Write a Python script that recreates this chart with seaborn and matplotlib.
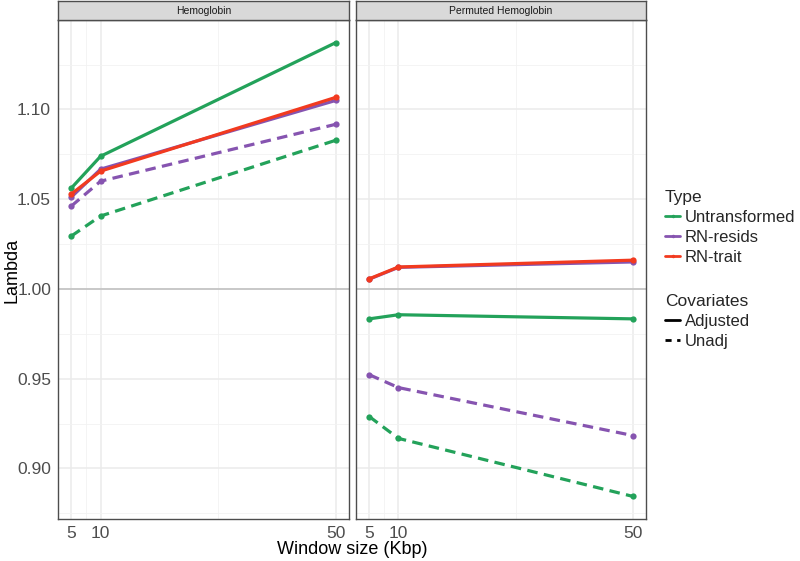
import numpy as np
import pandas as pd
import matplotlib
matplotlib.use('Agg')
import matplotlib.pyplot as plt
import seaborn as sns
from matplotlib.lines import Line2D

# data
windows = [5, 10, 50]
panels = ["Hemoglobin", "Permuted Hemoglobin"]
types = ["Untransformed", "RN-resids", "RN-trait"]
covariates = ["Adjusted", "Unadj"]

hemo_untrans_adj = [1.0561, 1.0739, 1.1372]
hemo_resids_adj = [1.0511, 1.0667, 1.1050]
hemo_trait_adj = [1.0528, 1.0656, 1.1067]
hemo_resids_unadj = [1.0461, 1.0600, 1.0917]
hemo_untrans_unadj = [1.0294, 1.0406, 1.0828]

perm_untrans_adj = [0.9833, 0.9856, 0.9833]
perm_resids_adj = [1.0054, 1.0120, 1.0150]
perm_trait_adj = [1.0056, 1.0122, 1.0160]
perm_resids_unadj = [0.9522, 0.9450, 0.9183]
perm_untrans_unadj = [0.9289, 0.9167, 0.8844]

series = [
    ("Hemoglobin", "Untransformed", "Adjusted", hemo_untrans_adj),
    ("Hemoglobin", "RN-resids", "Adjusted", hemo_resids_adj),
    ("Hemoglobin", "RN-trait", "Adjusted", hemo_trait_adj),
    ("Hemoglobin", "Untransformed", "Unadj", hemo_untrans_unadj),
    ("Hemoglobin", "RN-resids", "Unadj", hemo_resids_unadj),
    ("Permuted Hemoglobin", "Untransformed", "Adjusted", perm_untrans_adj),
    ("Permuted Hemoglobin", "RN-resids", "Adjusted", perm_resids_adj),
    ("Permuted Hemoglobin", "RN-trait", "Adjusted", perm_trait_adj),
    ("Permuted Hemoglobin", "Untransformed", "Unadj", perm_untrans_unadj),
    ("Permuted Hemoglobin", "RN-resids", "Unadj", perm_resids_unadj),
]
rows = []
for panel, typ, cov, vals in series:
    for w, v in zip(windows, vals):
        rows.append({"panel": panel, "Type": typ, "Covariates": cov, "window": w, "lambda": v})
df = pd.DataFrame(rows)

palette = {"Untransformed": "#23a25a", "RN-resids": "#8654b0", "RN-trait": "#f23a1f"}
unadj_dash = (3.3, 2.0)

sns.set_theme(style="white")
plt.rcParams['font.family'] = ['Liberation Sans', 'DejaVu Sans']

fig = plt.figure(figsize=(8, 5.61), dpi=100)
W, H = 800, 561
border = "#4d4d4d"

ylim = (0.8718, 1.1498)
xlim = (2.75, 52.25)
lefts = [(58, 349), (356, 646)]
top, bottom = 20, 519

for i, (panel, (x0, x1)) in enumerate(zip(panels, lefts)):
    ax = fig.add_axes([x0 / W, (H - bottom) / H, (x1 - x0) / W, (bottom - top) / H])
    sub = df[df["panel"] == panel]
    ax.set_xlim(*xlim)
    ax.set_ylim(*ylim)
    ax.set_xticks(windows)
    ax.set_xticks([7.5, 30], minor=True)
    ax.set_yticks([0.90, 0.95, 1.00, 1.05, 1.10])
    ax.set_yticks([0.875, 0.925, 0.975, 1.025, 1.075, 1.125], minor=True)
    ax.grid(True, which="major", color="#ebebeb", lw=1.1)
    ax.grid(True, which="minor", color="#f2f2f2", lw=0.6)
    ax.set_axisbelow(True)
    ax.axhline(1.0, color="#bebebe", lw=1.1, zorder=1)
    # adjusted first, then unadj; red drawn last within each group
    for cov in covariates:
        for typ in types:
            part = sub[(sub["Type"] == typ) & (sub["Covariates"] == cov)]
            if part.empty:
                continue
            sns.lineplot(data=part, x="window", y="lambda", ax=ax, color=palette[typ],
                         lw=2.3, marker="o", markersize=4.5, markeredgewidth=0,
                         legend=False, zorder=3)
            if cov == "Unadj":
                ax.lines[-1].set_dashes(unadj_dash)
    for s in ax.spines.values():
        s.set_color(border)
        s.set_linewidth(1.0)
    ax.tick_params(axis="both", which="major", length=3, width=0.8, color=border,
                   labelsize=12.5, labelcolor="#4d4d4d", pad=2)
    ax.tick_params(axis="both", which="minor", length=0)
    ax.set_xticklabels([str(w) for w in windows])
    ax.set_xlabel("")
    ax.set_ylabel("")
    if i == 0:
        ax.set_yticklabels(["0.90", "0.95", "1.00", "1.05", "1.10"])
    else:
        ax.tick_params(axis="y", left=False, labelleft=False)
    # facet strip
    sax = fig.add_axes([x0 / W, (H - top) / H, (x1 - x0) / W, 19 / H])
    sax.set_facecolor("#d9d9d9")
    sax.set_xticks([])
    sax.set_yticks([])
    for s in sax.spines.values():
        s.set_color(border)
        s.set_linewidth(1.0)
    sax.text(0.5, 0.45, panel, ha="center", va="center", fontsize=7.5, color="#1a1a1a",
             transform=sax.transAxes)

fig.text((58 + 646) / 2 / W, 1 - 550 / H, "Window size (Kbp)", ha="center", va="center",
         fontsize=13, color="black")
fig.text(12 / W, 1 - 270 / H, "Lambda", ha="center", va="center", rotation=90,
         fontsize=13, color="black")

legend_kw = dict(loc="upper left", frameon=False, fontsize=12, title_fontsize=12.5,
                 handlelength=0.9, handletextpad=0.3, labelspacing=0.3,
                 borderaxespad=0, borderpad=0)
type_handles = [Line2D([0], [0], color=palette[t], lw=2, marker="o", markersize=2.5,
                       markeredgewidth=0) for t in types]
leg1 = fig.legend(type_handles, types, title="Type",
                  bbox_to_anchor=(665 / W, 1 - 190 / H), **legend_kw)
leg1._legend_box.align = "left"
cov_handles = [Line2D([0], [0], color="black", lw=2),
               Line2D([0], [0], color="black", lw=2, dashes=(2.2, 2.0))]
leg2 = fig.legend(cov_handles, covariates, title="Covariates",
                  bbox_to_anchor=(665 / W, 1 - 294 / H), **legend_kw)
leg2._legend_box.align = "left"

fig.savefig("out.png", dpi=100)
